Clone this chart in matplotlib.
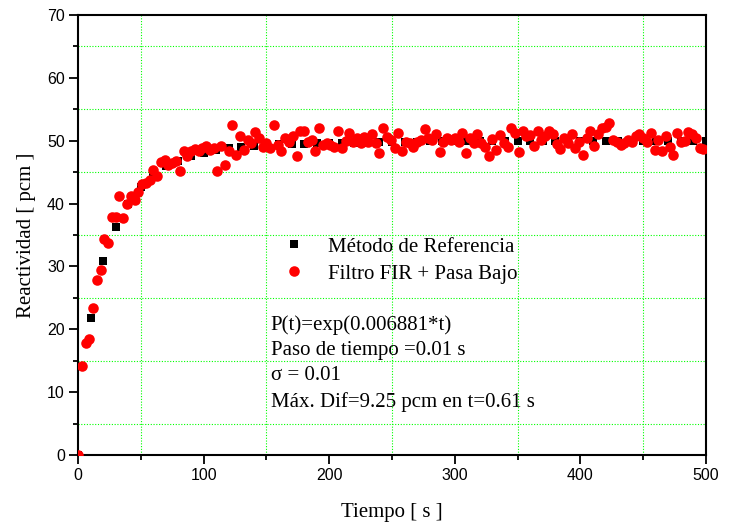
import numpy as np
import matplotlib
matplotlib.use("Agg")
import matplotlib.pyplot as plt
from matplotlib.ticker import MultipleLocator

# Reference method: one value every 10 s
ref_t = np.arange(0, 501, 10)
ref_val = [0.0, 21.8, 30.8, 36.3, 39.9, 42.7, 44.6, 45.9, 46.8, 47.6,
           48.1, 48.5, 48.8, 49.0, 49.2, 49.3, 49.4, 49.5, 49.5, 49.6,
           49.6, 49.7, 49.7, 49.7, 49.8, 49.8, 49.8, 49.8, 49.9, 49.9,
           49.9, 49.9, 49.9, 49.9, 50.0, 50.0, 50.0, 50.0, 50.0, 50.0,
           50.0, 50.0, 50.0, 50.0, 50.0, 50.0, 50.0, 50.0, 50.0, 50.0,
           50.0]

# FIR + low pass filter output: one value every 3 s
fir_val = [0.0, 14.1, 17.8, 18.4, 23.4, 27.8, 29.4, 34.3, 33.8, 37.8,
           37.9, 41.2, 37.7, 40.0, 41.2, 40.6, 41.9, 43.1, 43.2, 43.7,
           45.3, 44.4, 46.6, 46.9, 46.1, 46.4, 46.7, 45.2, 48.3, 47.5,
           48.3, 48.7, 48.3, 48.9, 49.2, 48.6, 48.8, 45.2, 49.2, 46.2,
           48.3, 52.5, 47.7, 50.7, 48.5, 50.1, 49.6, 51.4, 50.4, 49.0,
           49.6, 48.8, 52.5, 49.3, 48.3, 50.5, 49.8, 50.7, 47.5, 51.5,
           51.6, 49.8, 50.1, 48.3, 52.1, 49.3, 49.6, 49.3, 49.0, 51.6,
           48.8, 50.0, 51.3, 49.8, 50.4, 49.6, 50.6, 49.8, 51.1, 49.6,
           48.1, 52.0, 50.6, 50.1, 48.8, 51.3, 48.4, 49.8, 49.6, 49.0,
           49.8, 50.1, 51.8, 50.4, 50.1, 51.0, 48.2, 49.8, 50.5, 50.1,
           50.4, 49.8, 51.2, 48.1, 50.4, 49.6, 51.0, 49.6, 49.0, 47.5,
           50.2, 48.5, 50.9, 49.6, 49.0, 52.0, 51.3, 48.2, 51.5, 50.7,
           50.9, 49.2, 51.5, 50.1, 50.7, 51.5, 51.0, 49.4, 48.7, 50.4,
           49.6, 51.1, 48.8, 49.8, 47.7, 50.4, 51.6, 49.2, 51.1, 52.0,
           52.2, 52.8, 50.1, 49.8, 49.3, 49.6, 50.1, 49.8, 50.7, 51.1,
           50.4, 49.8, 51.2, 48.5, 50.1, 48.3, 50.7, 49.0, 47.8, 51.2,
           49.8, 49.9, 51.4, 51.0, 50.5, 48.8, 48.7]
fir_t = np.arange(len(fir_val)) * 3

info_lines = ["P(t)=exp(0.006881*t)",
              "Paso de tiempo =0.01 s",
              "\u03c3 = 0.01",
              "Máx. Dif=9.25 pcm en t=0.61 s"]

serif = "Liberation Serif"
sans = "Liberation Sans"

fig = plt.figure(figsize=(7.34, 5.25), dpi=100)
ax = fig.add_axes([78/734, 70/525, 628/734, 440/525])

ax.plot(ref_t, ref_val, "s", color="black", markersize=6, markeredgewidth=0,
        label="Método de Referencia", zorder=3)
ax.plot(fir_t, fir_val, "o", color="red", markersize=7.6, markeredgewidth=0,
        label="Filtro FIR + Pasa Bajo", zorder=4)

ax.set_xlim(0, 500)
ax.set_ylim(0, 70)
ax.xaxis.set_major_locator(MultipleLocator(100))
ax.xaxis.set_minor_locator(MultipleLocator(50))
ax.yaxis.set_major_locator(MultipleLocator(10))
ax.yaxis.set_minor_locator(MultipleLocator(5))
ax.grid(which="minor", color="#00ff00", linestyle=(0, (1, 1.5)), linewidth=0.8)
ax.grid(which="major", visible=False)
ax.set_axisbelow(True)

ax.tick_params(which="major", direction="out", length=6.5, width=1.3,
               labelsize=11.5, pad=3)
ax.tick_params(which="minor", direction="out", length=3.8, width=1.3)
for lab in ax.get_xticklabels() + ax.get_yticklabels():
    lab.set_fontfamily(sans)
for sp in ax.spines.values():
    sp.set_linewidth(1.5)

ax.set_xlabel("Tiempo [ s ]", fontsize=15, fontfamily=serif, labelpad=14)
ax.set_ylabel("Reactividad [ pcm ]", fontsize=15, fontfamily=serif, labelpad=8)

ax.legend(loc="upper left", bbox_to_anchor=(0.328, 0.495), frameon=False,
          prop={"family": serif, "size": 15}, handlelength=1.0,
          handletextpad=1.1, borderpad=0, borderaxespad=0,
          labelspacing=0.35, numpoints=1)

ax.text(0.307, 0.208, "\n".join(info_lines), transform=ax.transAxes,
        fontsize=15, fontfamily=serif, va="center", ha="left",
        linespacing=1.43)

fig.savefig("out.png", dpi=100)
